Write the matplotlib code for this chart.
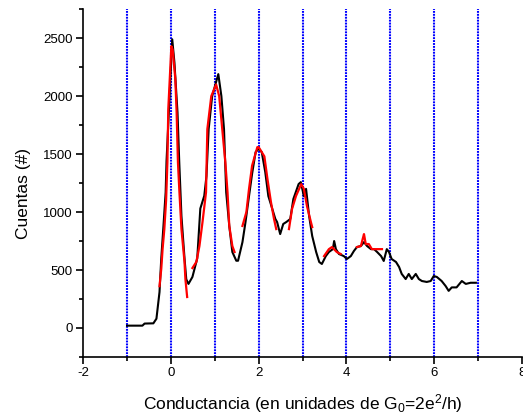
import matplotlib
matplotlib.use("Agg")
import matplotlib.pyplot as plt
from matplotlib.ticker import MultipleLocator

plt.rcParams['font.family'] = ['Liberation Sans', 'DejaVu Sans']
plt.rcParams['axes.unicode_minus'] = False
plt.rcParams['mathtext.fontset'] = 'custom'
plt.rcParams['mathtext.rm'] = 'Liberation Sans'
plt.rcParams['mathtext.it'] = 'Liberation Sans'

# Black histogram curve
black_x = [-1.0, -0.65, -0.6, -0.4, -0.33, -0.26, -0.22, -0.17, -0.12, -0.1, -0.03, 0.03,
           0.08, 0.15, 0.19, 0.24, 0.31, 0.35, 0.40, 0.49, 0.6, 0.67, 0.76, 0.81, 0.86, 0.94,
           1.08, 1.15, 1.21, 1.26, 1.33, 1.40, 1.49, 1.53, 1.63, 1.70, 1.78, 1.85, 1.93, 2.00,
           2.07, 2.15, 2.22, 2.29, 2.38, 2.42, 2.49, 2.56, 2.63, 2.72, 2.79, 2.91, 2.96, 3.03,
           3.08, 3.15, 3.22, 3.31, 3.38, 3.44, 3.53, 3.60, 3.69, 3.72, 3.76, 3.83, 3.94, 4.01,
           4.10, 4.17, 4.24, 4.33, 4.40, 4.47, 4.56, 4.63, 4.70, 4.79, 4.85, 4.92, 4.97, 5.03,
           5.13, 5.20, 5.26, 5.35, 5.42, 5.49, 5.58, 5.65, 5.72, 5.83, 5.92, 5.99, 6.06, 6.17,
           6.26, 6.33, 6.40, 6.51, 6.63, 6.72, 6.83, 6.95]
black_y = [20, 20, 38, 40, 80, 310, 600, 880, 1170, 1440, 2000, 2490,
           2290, 1860, 1430, 965, 600, 420, 380, 440, 600, 1030, 1140, 1310, 1715, 2000,
           2190, 2000, 1715, 1170, 880, 655, 580, 580, 740, 914, 1138, 1330, 1517, 1545,
           1517, 1345, 1138, 1052, 940, 914, 810, 897, 914, 940, 1112, 1241, 1258, 1138,
           1200, 965, 793, 655, 569, 552, 620, 655, 680, 750, 680, 638, 620, 595,
           620, 664, 698, 707, 741, 707, 680, 680, 655, 620, 578, 680, 655, 595,
           569, 526, 466, 422, 466, 422, 466, 422, 405, 397, 405, 448, 440, 405,
           362, 320, 350, 350, 405, 380, 390, 390]

# Red fitted segments
red1_x = [-0.26, -0.22, -0.19, -0.15, -0.11, -0.08, -0.06, 0.01, 0.04, 0.10, 0.13, 0.16, 0.19, 0.24, 0.31, 0.33, 0.37]
red1_y = [360, 510, 680, 853, 1100, 1430, 1888, 2430, 2400, 2150, 1860, 1430, 1200, 853, 569, 422, 267]
red2_x = [0.49, 0.58, 0.65, 0.72, 0.80, 0.83, 0.92, 1.03, 1.10, 1.17, 1.24, 1.29, 1.33, 1.40, 1.45]
red2_y = [517, 570, 707, 914, 1170, 1715, 2000, 2100, 2000, 1715, 1430, 1170, 880, 707, 655]
red3_x = [1.63, 1.72, 1.78, 1.85, 1.97, 2.00, 2.13, 2.20, 2.28, 2.35, 2.40]
red3_y = [880, 1000, 1200, 1400, 1560, 1560, 1480, 1285, 1085, 940, 853]
red4_x = [2.69, 2.76, 2.85, 2.97, 3.03, 3.10, 3.19, 3.22]
red4_y = [853, 1026, 1138, 1241, 1200, 1052, 914, 870]
red5_x = [3.49, 3.60, 3.67, 3.78, 3.87]
red5_y = [620, 680, 698, 655, 638]
red6_x = [4.24, 4.33, 4.37, 4.40, 4.44, 4.51, 4.58, 4.81]
red6_y = [698, 707, 767, 810, 724, 724, 680, 680]

vline_x = [-1, 0, 1, 2, 3, 4, 5, 6, 7]

fig = plt.figure(figsize=(5.23, 4.17), dpi=100)
ax = fig.add_axes([0.159, 0.144, 0.839, 0.834])

for xv in vline_x:
    ax.axvline(xv, color='#0000ff', lw=1.5, ls=(0, (0.9, 0.5)), zorder=1)

ax.plot(black_x, black_y, color='black', lw=1.5, zorder=2)
for rx, ry in [(red1_x, red1_y), (red2_x, red2_y), (red3_x, red3_y),
               (red4_x, red4_y), (red5_x, red5_y), (red6_x, red6_y)]:
    ax.plot(rx, ry, color='#ff0000', lw=1.6, zorder=3)

ax.set_xlim(-2, 8)
ax.set_ylim(-250, 2750)
ax.xaxis.set_major_locator(MultipleLocator(2))
ax.xaxis.set_minor_locator(MultipleLocator(1))
ax.yaxis.set_major_locator(MultipleLocator(500))
ax.yaxis.set_minor_locator(MultipleLocator(250))
ax.tick_params(which='major', direction='out', length=5, width=1.2, labelsize=9.5, pad=2.5)
ax.tick_params(which='minor', direction='out', length=3, width=1.2)
for s in ['top', 'right']:
    ax.spines[s].set_visible(False)
for s in ['left', 'bottom']:
    ax.spines[s].set_linewidth(1.2)

ax.set_xlabel('Conductancia (en unidades de G$_0$=2e$^2$/h)', fontsize=12.5, labelpad=9)
ax.set_ylabel('Cuentas (#)', fontsize=12.5)
ax.yaxis.set_label_coords(-0.118, 0.471)

fig.savefig('out.png', dpi=100)
